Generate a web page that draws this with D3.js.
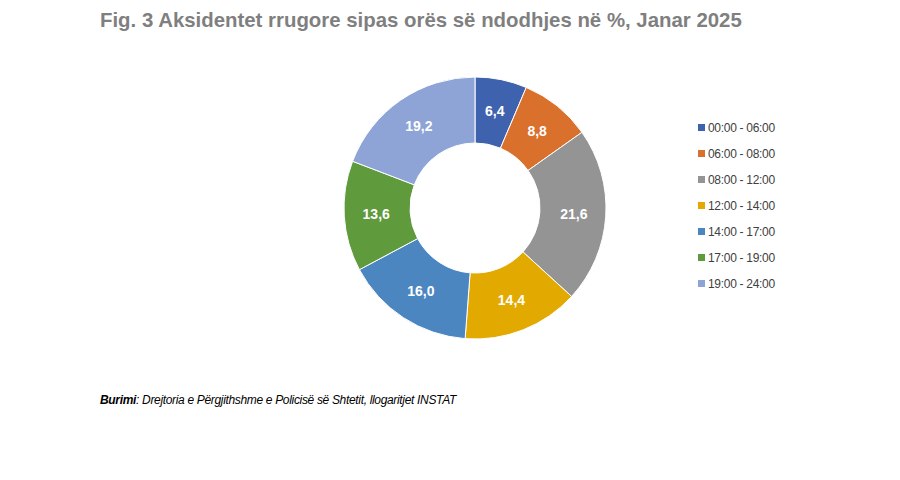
<!DOCTYPE html>
<html>
<head>
<meta charset="utf-8">
<script src="https://cdn.jsdelivr.net/npm/d3@7"></script>
<style>
  body { margin: 0; background: #fff; }
  svg { font-family: "Liberation Sans", Arial, sans-serif; }
</style>
</head>
<body>
<div id="chart"></div>
<script>
// data
var categories = ["00:00 - 06:00", "06:00 - 08:00", "08:00 - 12:00", "12:00 - 14:00",
                  "14:00 - 17:00", "17:00 - 19:00", "19:00 - 24:00"];
var values = [6.4, 8.8, 21.6, 14.4, 16.0, 13.6, 19.2];
var colors = ["#3F62AE", "#D9702C", "#949494", "#E2AA00", "#4C86C1", "#5F9A3D", "#8EA4D6"];

var width = 900, height = 480;
var cx = 475, cy = 208;
var outerR = 131, innerR = 65;

var svg = d3.select("#chart").append("svg")
    .attr("width", width)
    .attr("height", height);

// title
svg.append("text")
    .attr("x", 100)
    .attr("y", 27)
    .attr("fill", "#7f7f7f")
    .style("font-size", "20.4px")
    .style("font-weight", "bold")
    .text("Fig. 3 Aksidentet rrugore sipas orës së ndodhjes në %, Janar 2025");

var pie = d3.pie().sort(null).value(function(d) { return d; });
var arc = d3.arc().innerRadius(innerR).outerRadius(outerR);
var labelArc = d3.arc().innerRadius((innerR + outerR) / 2 + 1).outerRadius((innerR + outerR) / 2 + 1);

var g = svg.append("g")
    .attr("transform", "translate(" + cx + "," + cy + ")");

var arcs = pie(values);

g.selectAll("path")
    .data(arcs)
    .enter()
    .append("path")
    .attr("d", arc)
    .attr("fill", function(d, i) { return colors[i]; })
    .attr("stroke", "#fff")
    .attr("stroke-width", 1);

g.selectAll("text.val")
    .data(arcs)
    .enter()
    .append("text")
    .attr("class", "val")
    .attr("transform", function(d) { return "translate(" + labelArc.centroid(d) + ")"; })
    .attr("text-anchor", "middle")
    .attr("dy", "0.35em")
    .attr("fill", "#fff")
    .style("font-size", "14px")
    .style("font-weight", "bold")
    .text(function(d) { return d3.format(".1f")(d.data).replace(".", ","); });

// legend
var legend = svg.append("g")
    .attr("transform", "translate(698,128)");

var item = legend.selectAll("g")
    .data(categories)
    .enter()
    .append("g")
    .attr("transform", function(d, i) { return "translate(0," + (i * 26) + ")"; });

item.append("rect")
    .attr("x", 0)
    .attr("y", -4)
    .attr("width", 7)
    .attr("height", 7)
    .attr("fill", function(d, i) { return colors[i]; });

item.append("text")
    .attr("x", 10)
    .attr("dy", "0.35em")
    .attr("fill", "#404040")
    .style("font-size", "12px")
    .style("letter-spacing", "-0.3px")
    .text(function(d) { return d; });

// source note
var src = svg.append("text")
    .attr("x", 100)
    .attr("y", 404)
    .attr("fill", "#000")
    .style("font-size", "12px")
    .style("font-style", "italic")
    .style("letter-spacing", "-0.33px");
src.append("tspan").style("font-weight", "bold").text("Burimi");
src.append("tspan").text(": Drejtoria e Përgjithshme e Policisë së Shtetit, llogaritjet INSTAT");
</script>
</body>
</html>
